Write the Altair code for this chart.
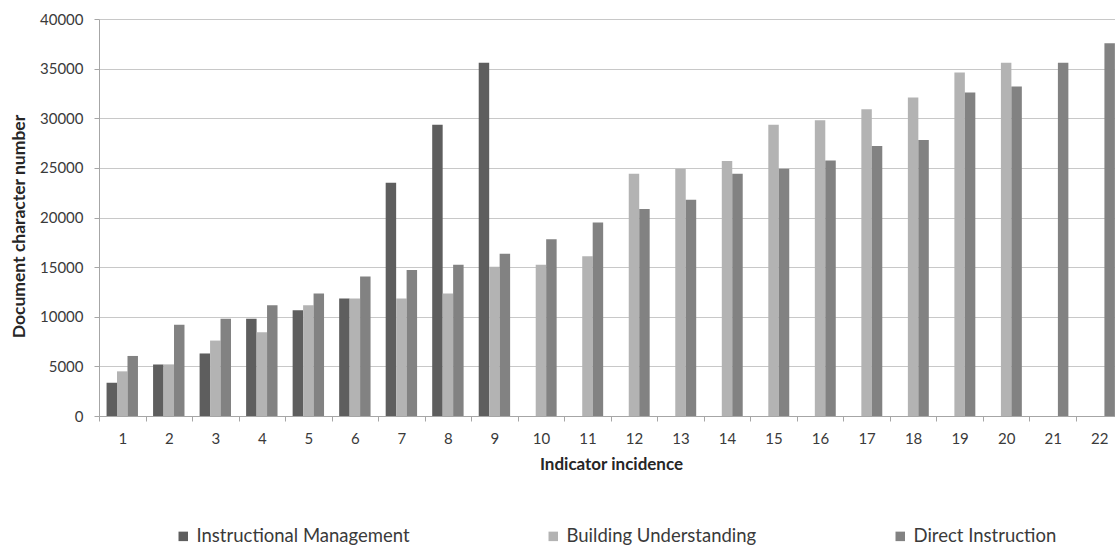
import altair as alt
import pandas as pd

# Indicator incidence (x categories)
indicators = list(range(1, 23))

# Document character number per series (None = no bar at that incidence)
instructional_management = [3350, 5200, 6300, 9800, 10650, 11850, 23500, 29350, 35600,
                            None, None, None, None, None, None, None, None, None, None,
                            None, None, None]
building_understanding = [4500, 5200, 7600, 8450, 11150, 11850, 11850, 12350, 15050,
                          15250, 16100, 24400, 24900, 25700, 29350, 29800, 30900, 32100,
                          34600, 35600, None, None]
direct_instruction = [6050, 9200, 9800, 11150, 12350, 14050, 14700, 15250, 16350,
                      17800, 19500, 20850, 21800, 24400, 24900, 25750, 27200, 27800,
                      32600, 33200, 35600, 37550]

series_names = ["Instructional Management", "Building Understanding", "Direct Instruction"]
series_colors = ["#5e5e5e", "#b3b3b3", "#828282"]
y_ticks = list(range(0, 40001, 5000))

FONT = "Lato"
BAR_W = 0.225  # bar width in category units; three bars side by side per category

rows = []
for slot, (name, values) in enumerate(zip(series_names,
                                          [instructional_management,
                                           building_understanding,
                                           direct_instruction])):
    for ind, val in zip(indicators, values):
        if val is not None:
            rows.append({"indicator": ind, "series": name, "slot": slot, "value": val})
df = pd.DataFrame(rows)

x_scale = alt.Scale(domain=[0.5, 22.34], nice=False, zero=False)
y_scale = alt.Scale(domain=[0, 40000], nice=False)

bars = (
    alt.Chart(df)
    .transform_calculate(
        center=f"datum.indicator + (datum.slot - 1) * {BAR_W}",
    )
    .transform_calculate(
        x0=f"datum.center - {BAR_W / 2}",
        x1=f"datum.center + {BAR_W / 2}",
    )
    .mark_bar(clip=True)
    .encode(
        x=alt.X(
            "x0:Q",
            scale=x_scale,
            axis=alt.Axis(
                values=indicators,
                title="Indicator incidence",
                titleFont=FONT,
                titleFontSize=17,
                titleFontWeight="bold",
                titleColor="#262626",
                titleX=512,
                titleY=48,
                titleBaseline="middle",
                titleAlign="center",
                labelFont=FONT,
                labelFontSize=15,
                labelColor="#3a3a3a",
                labelBaseline="middle",
                labelPadding=17,
                labelOffset=23.26,
                tickOffset=-23.26,
                tickSize=5,
                tickColor="#a6a6a6",
                domainColor="#a6a6a6",
                grid=False,
                labelFlush=False,
                labelOverlap=False,
            ),
        ),
        x2="x1:Q",
        y=alt.Y(
            "value:Q",
            scale=y_scale,
            axis=alt.Axis(
                values=y_ticks,
                format="d",
                title="Document character number",
                titleFont=FONT,
                titleFontSize=17.5,
                titleFontWeight="bold",
                titleColor="#262626",
                titleAngle=-90,
                titleX=-80,
                titleY=207,
                titleAlign="center",
                titleBaseline="middle",
                labelFont=FONT,
                labelFontSize=15,
                labelColor="#3a3a3a",
                labelPadding=11,
                labelBaseline="middle",
                tickSize=5,
                tickColor="#a6a6a6",
                domainColor="#a6a6a6",
                gridColor="#c8c8c8",
                gridWidth=1,
            ),
        ),
        y2=alt.datum(0),
        color=alt.Color(
            "series:N",
            scale=alt.Scale(domain=series_names, range=series_colors),
            sort=series_names,
            legend=alt.Legend(
                title=None,
                orient="none",
                direction="horizontal",
                columns=3,
                columnPadding=134,
                legendX=75,
                legendY=508,
                padding=0,
                symbolType="square",
                symbolSize=90,
                symbolStrokeWidth=0,
                labelFont=FONT,
                labelFontSize=18.5,
                labelColor="#3a3a3a",
                labelOffset=4,
                labelLimit=400,
            ),
        ),
    )
)

chart = (
    bars.properties(
        width=1016,
        height=397,
        autosize=alt.AutoSizeParams(type="none"),
        padding={"left": 99, "top": 19, "right": 0, "bottom": 129},
        background="white",
    )
    .configure_view(strokeWidth=0)
)

chart.save("out.html", embed_options={"renderer": "svg", "actions": False})
